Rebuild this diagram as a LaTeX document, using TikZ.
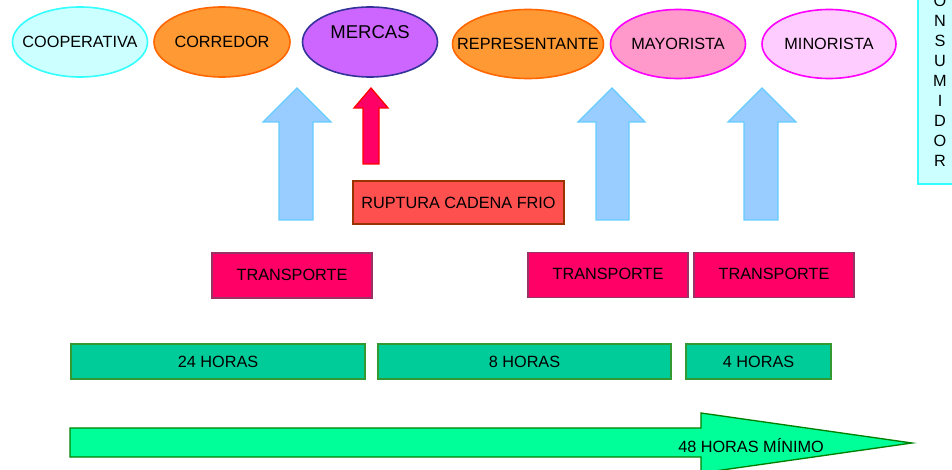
\documentclass[tikz,border=0pt]{standalone}
\usepackage{fontspec}
\setmainfont{Liberation Sans}
\usetikzlibrary{shapes.geometric}

\definecolor{cyanfill}{HTML}{CCFFFF}
\definecolor{cyanline}{HTML}{33FFFF}
\definecolor{orangefill}{HTML}{FF9933}
\definecolor{orangeline}{HTML}{FF6600}
\definecolor{violetfill}{HTML}{CC66FF}
\definecolor{violetline}{HTML}{333399}
\definecolor{pinkfill}{HTML}{FF99CC}
\definecolor{lightpink}{HTML}{FFCCFF}
\definecolor{magentaline}{HTML}{FF00FF}
\definecolor{skyfill}{HTML}{99CCFF}
\definecolor{skyline}{HTML}{66CCFF}
\definecolor{rosefill}{HTML}{FF0066}
\definecolor{roseline}{HTML}{993366}
\definecolor{ruptfill}{HTML}{FF5050}
\definecolor{ruptline}{HTML}{993300}
\definecolor{hourfill}{HTML}{00CC99}
\definecolor{hourline}{HTML}{339933}
\definecolor{timefill}{HTML}{00FF99}
\definecolor{timeline}{HTML}{008000}

\begin{document}
\begin{tikzpicture}[x=0.75pt, y=-0.75pt, font=\fontsize{12.2}{15}\selectfont,
    oval/.style 2 args={ellipse, draw, line width=1.2pt, inner sep=0pt,
        minimum width=#1*0.75pt, minimum height=#2*0.75pt},
    box/.style 2 args={rectangle, draw, line width=0.8pt,
        minimum width=#1*0.75pt, minimum height=#2*0.75pt},
    transp/.style={box={160}{45}, fill=rosefill, draw=roseline},
    hours/.style={box={#1}{35}, fill=hourfill, draw=hourline},
    bluearrow/.style={fill=skyfill, draw=skyline, line width=1pt},
    redarrow/.style={fill=rosefill, draw=red, line width=1pt}]
        \useasboundingbox (0,0) rectangle (952,470);
        \clip (0,0) rectangle (952,470);

        % Agents
        \node[oval={135}{70}, fill=cyanfill, draw=cyanline] (coop) at (80,42) {};
        \node (coopT) at (coop) {COOPERATIVA};
        \node[oval={136}{70}, fill=orangefill, draw=orangeline] (corr) at (222,42) {};
        \node (corrT) at (corr) {CORREDOR};
        \node[oval={135}{70}, fill=violetfill, draw=violetline] (merc) at (370,42) {};
        \node[font=\fontsize{13.9}{16}\selectfont] (mercT) at ([yshift=7.5pt]merc.center) {MERCAS};
        \node[oval={151}{69}, fill=orangefill, draw=orangeline] (repr) at (528,44) {};
        \node (reprT) at (repr) {REPRESENTANTE};
        \node[oval={135}{69}, fill=pinkfill, draw=magentaline] (mayo) at (678,44) {};
        \node (mayoT) at (mayo) {MAYORISTA};
        \node[oval={134}{69}, fill=lightpink, draw=magentaline] (mino) at (829,44) {};
        \node (minoT) at (mino) {MINORISTA};
        \node[box={44}{226}, fill=cyanfill, draw=cyanline, align=center, inner sep=0pt]
            (cons) at (940,71) {C\\O\\N\\S\\U\\M\\I\\D\\O\\R};

        % Arrows
        \draw[bluearrow] (263,122) -- (297,88) -- (331,122) -- (313,122) -- (313,220) -- (279,220) -- (279,122) -- cycle;
        \draw[bluearrow] (578,122) -- (612,88) -- (645,122) -- (629,122) -- (629,220) -- (596,220) -- (596,122) -- cycle;
        \draw[bluearrow] (728,122) -- (762,88) -- (796,122) -- (778,122) -- (778,220) -- (744,220) -- (744,122) -- cycle;
        \draw[redarrow] (354,108) -- (371,88) -- (388,108) -- (379,108) -- (379,164) -- (363,164) -- (363,108) -- cycle;

        % Boxes
        \node[box={211}{43}, fill=ruptfill, draw=ruptline] (rupt) at (458.5,202.5) {RUPTURA CADENA FRIO};
        \node[transp] (tr1) at (292,275.5) {\raisebox{1.5pt}{TRANSPORTE}};
        \node[transp] (tr2) at (608,275) {\raisebox{1.5pt}{TRANSPORTE}};
        \node[transp] (tr3) at (774,275) {\raisebox{1.5pt}{TRANSPORTE}};
        \node[hours={294}] (h24) at (218,361.5) {24 HORAS};
        \node[hours={293}] (h8) at (524.5,361.5) {8 HORAS};
        \node[hours={145}] (h4) at (758.5,361.5) {4 HORAS};

        % Total time
        \draw[fill=timefill, draw=timeline, line width=1pt] (70,428) -- (701,428) -- (701,413) -- (912,443)
            -- (701,473) -- (701,457) -- (70,457) -- cycle;
        \node (total) at (751,446) {48 HORAS MÍNIMO};
\end{tikzpicture}
\end{document}
